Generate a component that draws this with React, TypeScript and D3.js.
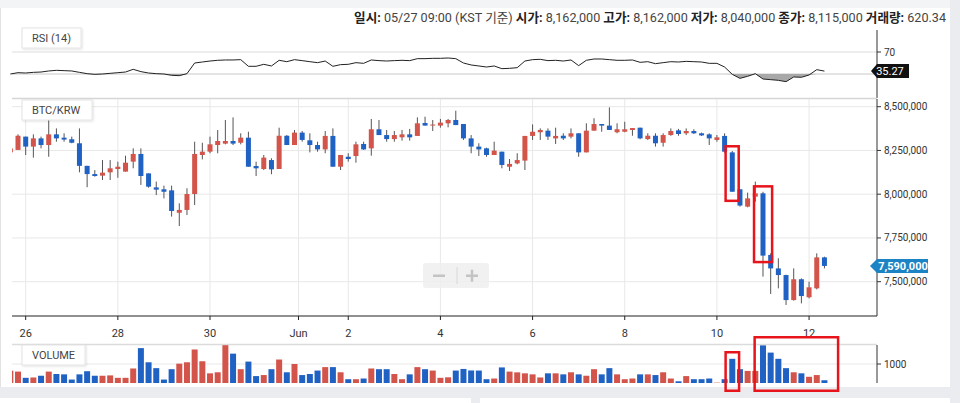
import React from "react";
import * as d3 from "d3";

// ---- data (4h candles, BTC/KRW) ----
const firstCandleDay = 25 + 16 / 24; // May 25 16:00 (chart time, day units)
const candleStepDays = 4 / 24;

const openP = [8239000,8253000,8329000,8272000,8319000,8281000,8342000,8323000,8314000,8291000,8162000,8115000,8106000,8125000,8144000,8129000,8186000,8230000,8119000,8039000,8028000,8022000,7894000,7910000,8001000,8224000,8243000,8281000,8289000,8304000,8294000,8323000,8161000,8144000,8195000,8144000,8334000,8281000,8352000,8308000,8281000,8256000,8333000,8157000,8214000,8218000,8287000,8262000,8371000,8338000,8315000,8325000,8342000,8333000,8407000,8397000,8392000,8405000,8424000,8401000,8319000,8272000,8262000,8224000,8243000,8157000,8176000,8192000,8333000,8354000,8363000,8319000,8334000,8329000,8348000,8239000,8363000,8401000,8392000,8354000,8357000,8367000,8380000,8315000,8334000,8294000,8338000,8365000,8348000,8361000,8348000,8342000,8310000,8333000,8239000,8028000,7929000,7986000,8005000,7653000,7576000,7538000,7395000,7514000,7411000,7462000,7639000];
const highP = [8265000,8342000,8329000,8342000,8329000,8424000,8376000,8348000,8329000,8376000,8162000,8138000,8195000,8195000,8186000,8220000,8262000,8262000,8119000,8072000,8049000,8049000,7948000,8034000,8300000,8294000,8329000,8367000,8424000,8439000,8348000,8357000,8186000,8224000,8205000,8380000,8338000,8367000,8361000,8348000,8300000,8361000,8376000,8224000,8234000,8300000,8300000,8430000,8424000,8367000,8361000,8367000,8373000,8439000,8443000,8424000,8430000,8430000,8477000,8401000,8338000,8291000,8266000,8300000,8243000,8201000,8234000,8333000,8399000,8376000,8376000,8380000,8348000,8376000,8348000,8405000,8434000,8401000,8496000,8405000,8414000,8378000,8380000,8348000,8348000,8348000,8376000,8373000,8376000,8371000,8352000,8348000,8338000,8348000,8247000,8028000,8009000,8072000,8014000,7662000,7634000,7540000,7576000,7519000,7500000,7662000,7643000];
const lowP = [8235000,8253000,8224000,8209000,8262000,8214000,8300000,8300000,8291000,8125000,8040000,8100000,8081000,8081000,8094000,8129000,8148000,8053000,8037000,7995000,7976000,7872000,7818000,7881000,7938000,8199000,8234000,8234000,8285000,8281000,8285000,8157000,8104000,8138000,8114000,8144000,8281000,8281000,8300000,8239000,8243000,8234000,8157000,8138000,8186000,8180000,8253000,8220000,8338000,8300000,8300000,8306000,8306000,8333000,8392000,8361000,8380000,8382000,8395000,8310000,8234000,8218000,8214000,8224000,8148000,8133000,8171000,8138000,8310000,8310000,8310000,8287000,8310000,8319000,8214000,8239000,8363000,8357000,8367000,8348000,8354000,8334000,8314000,8310000,8272000,8272000,8334000,8334000,8338000,8344000,8333000,8281000,8300000,8237000,8014000,7929000,7925000,7957000,7529000,7430000,7462000,7367000,7392000,7376000,7405000,7456000,7576000];
const closeP = [8262000,8334000,8272000,8319000,8281000,8342000,8319000,8312000,8294000,8162000,8115000,8104000,8123000,8148000,8157000,8180000,8230000,8104000,8043000,8026000,8014000,7904000,7910000,8001000,8230000,8243000,8285000,8304000,8304000,8289000,8323000,8157000,8148000,8209000,8142000,8334000,8281000,8352000,8310000,8281000,8256000,8333000,8157000,8224000,8201000,8285000,8256000,8371000,8338000,8315000,8338000,8342000,8325000,8405000,8392000,8398000,8409000,8424000,8395000,8319000,8272000,8256000,8224000,8249000,8167000,8173000,8195000,8333000,8357000,8367000,8329000,8333000,8319000,8348000,8239000,8363000,8401000,8392000,8367000,8371000,8371000,8378000,8319000,8334000,8291000,8338000,8361000,8344000,8361000,8348000,8336000,8319000,8325000,8243000,8014000,7935000,7976000,8005000,7649000,7576000,7538000,7395000,7514000,7418000,7468000,7639000,7590000];
const volumes = [650,600,273,291,382,600,473,455,182,455,620.34,382,382,400,273,273,764,1836,1091,782,182,727,1018,1091,1764,1145,509,564,1990,1545,727,1127,364,418,727,1236,564,1000,418,473,655,836,836,564,200,200,236,764,727,727,473,200,455,836,727,655,273,300,655,740,660,655,200,236,820,600,560,509,455,291,509,509,455,564,455,382,727,455,782,455,200,236,455,455,418,564,236,91,364,200,200,236,18,200,1273,727,636,636,1980,1600,1273,782,564,509,327,418,145];
const rsiValues = [30.0,32.4,31.8,33.0,33.6,35.5,36.7,36.1,35.5,33.0,30.6,29.4,30.0,31.2,32.4,33.6,38.5,34.3,31.8,30.6,30.0,27.6,27.0,30.6,50.0,51.8,53.6,54.9,55.5,55.5,56.1,44.0,44.0,47.6,44.6,54.9,52.4,56.1,54.3,52.4,50.6,53.6,44.0,47.0,47.6,50.6,49.4,55.5,54.3,53.6,54.3,54.9,54.3,57.9,57.9,58.5,58.5,59.1,57.9,50.0,46.4,44.6,42.7,44.6,39.7,40.3,41.5,53.6,56.1,56.7,54.3,54.9,53.6,55.5,45.2,54.9,57.3,57.3,56.1,54.9,54.9,55.5,51.2,52.4,48.8,50.6,52.4,51.8,53.0,52.4,51.8,49.4,49.4,42.7,29.4,22.1,25.8,30.6,20.9,19.7,18.5,16.1,24.6,24.0,28.2,37.9,35.27];

const xTickDays = [26, 28, 30, 31.92, 33, 35, 37, 39, 41, 43];
const xTickLabels = ["26", "28", "30", "Jun", "2", "4", "6", "8", "10", "12"];
const priceTicks = [7500000, 7750000, 8000000, 8250000, 8500000];
const rsiLevels = [30, 70];
const rsiTickLabels = [70];
const volumeTicks = [1000];

const hoverIndex = 10;
const hoverLabel = "05/27 09:00";

// annotation boxes, in candle-index / value units
const priceBoxes = [
  { from: 92.97, to: 95.0, top: 8281000, bottom: 7955000 },
  { from: 96.67, to: 99.35, top: 8052000, bottom: 7605000 },
];
const volumeBoxes = [
  { from: 92.97, to: 95.05, top: 1684, bottom: -474 },
  { from: 96.75, to: 107.94, top: 2474, bottom: -474 },
];

const UP = "#d3544a";
const DOWN = "#2062c3";
const WICK = "#555";
const FONT = "Roboto, 'Noto Sans CJK KR', sans-serif";

export default function App() {
  const L = 12, R = 877;
  const x = d3.scaleLinear().domain([25.703, 44.474]).range([L, R]);
  const cx = (i: number) => x(firstCandleDay + i * candleStepDays);
  const yP = d3.scaleLinear().domain([7500000, 8500000]).range([281.7, 106.7]);
  const yR = d3.scaleLinear().domain([30, 70]).range([74, 52]);
  const yV = d3.scaleLinear().domain([0, 2000]).range([383, 345]);
  const fmt = d3.format(",");
  const idx = d3.range(closeP.length);

  const rsiLine = d3.line<number>().x((i) => cx(i)).y((i) => yR(rsiValues[i]))(idx) || "";
  const rsiArea =
    d3
      .area<number>()
      .x((i) => cx(i))
      .y0(yR(30))
      .y1((i) => yR(Math.min(rsiValues[i], 30)))(idx) || "";

  const last = closeP.length - 1;
  const lastY = yP(closeP[last]);
  const lastRY = yR(rsiValues[last]);

  const labelBox = (bx: number, by: number, w: number, text: string) => (
    <g>
      <rect x={bx} y={by} width={w} height={20} fill="#fff" stroke="#e4e4e4" filter="url(#sh)" />
      <text x={bx + 10} y={by + 14} fontSize={11} fill="#444" fontFamily={FONT}>{text}</text>
    </g>
  );

  const hdr: [string, boolean][] = [
    ["일시: ", true], [hoverLabel + " (KST 기준) ", false],
    ["시가: ", true], [fmt(openP[hoverIndex]) + " ", false],
    ["고가: ", true], [fmt(highP[hoverIndex]) + " ", false],
    ["저가: ", true], [fmt(lowP[hoverIndex]) + " ", false],
    ["종가: ", true], [fmt(closeP[hoverIndex]) + " ", false],
    ["거래량: ", true], [d3.format(".2f")(volumes[hoverIndex]), false],
  ];

  return (
    <svg width={960} height={403} style={{ position: "absolute", left: 0, top: 0 }} fontFamily={FONT}>
      <defs>
        <filter id="sh" x="-10%" y="-20%" width="130%" height="160%">
          <feDropShadow dx="1" dy="1" stdDeviation="1" floodColor="#000" floodOpacity="0.12" />
        </filter>
        <clipPath id="plot"><rect x={L} y={99} width={R - L} height={217} /></clipPath>
        <clipPath id="vplot"><rect x={L} y={345} width={R - L} height={38} /></clipPath>
      </defs>
      {/* page background */}
      <rect x={0} y={0} width={960} height={403} fill="#fff" />
      <rect x={0} y={0} width={950} height={8} fill="#f3f4f6" />
      <rect x={950} y={0} width={10} height={403} fill="#eaecef" />
      <rect x={0} y={387} width={950} height={11} fill="#eaecef" />
      <rect x={471} y={398} width={9} height={5} fill="#eaecef" />
      <line x1={0.5} x2={0.5} y1={8} y2={387} stroke="#e2e2e2" />

      {/* header */}
      <text x={946} y={22} textAnchor="end" fontSize={12.6}>
        {hdr.map(([s, b], k) => (
          <tspan key={k} fontWeight={b ? 700 : 400} fill={b ? "#222" : "#444"}>{s}</tspan>
        ))}
      </text>

      {/* RSI panel */}
      {rsiLevels.map((v) => (
        <line key={v} x1={L} x2={R} y1={yR(v)} y2={yR(v)} stroke={v === 70 ? "#ddd" : "#c8c8c8"} />
      ))}
      <path d={rsiArea} fill="#a8a8a8" />
      <path d={rsiLine} fill="none" stroke="#222" strokeWidth={1} />
      {labelBox(22, 28, 59, "RSI (14)")}
      <line x1={R} x2={R} y1={30} y2={98} stroke="#333" />
      {rsiTickLabels.map((v) => (
        <g key={v}>
          <line x1={R} x2={R + 4} y1={yR(v)} y2={yR(v)} stroke="#333" />
          <text x={884} y={yR(v) + 3.5} fontSize={10} fill="#333">{v}</text>
        </g>
      ))}
      <path d={`M${R - 6},${lastRY} l6,-7 h32 v14 h-32 z`} fill="#111" />
      <text x={890} y={lastRY + 4} fontSize={11} fill="#fff" textAnchor="middle">{rsiValues[last].toFixed(2)}</text>

      {/* separators */}
      <line x1={L} x2={R} y1={98.5} y2={98.5} stroke="#d6d6d6" strokeWidth={1.5} />

      {/* price panel grid */}
      {priceTicks.map((v) => (
        <line key={v} x1={L} x2={R} y1={yP(v)} y2={yP(v)} stroke="#e8e8e8" />
      ))}
      {xTickDays.map((d) => (
        <line key={d} x1={x(d)} x2={x(d)} y1={99} y2={316} stroke="#e8e8e8" />
      ))}

      {/* zoom control */}
      <g>
        <rect x={423} y={263} width={66} height={25} rx={3} fill="#efefef" opacity={0.85} />
        <line x1={457} x2={457} y1={267} y2={284} stroke="#d8d8d8" />
        <rect x={433} y={274.5} width={12} height={2.5} fill="#c4c4c4" />
        <rect x={466} y={274.5} width={12} height={2.5} fill="#c4c4c4" />
        <rect x={470.75} y={269.75} width={2.5} height={12} fill="#c4c4c4" />
      </g>

      {/* candles */}
      <g clipPath="url(#plot)">
        {idx.map((i) => {
          const up = closeP[i] >= openP[i];
          const c = cx(i);
          const top = yP(Math.max(openP[i], closeP[i]));
          const bot = yP(Math.min(openP[i], closeP[i]));
          return (
            <g key={i}>
              <line x1={c} x2={c} y1={yP(highP[i])} y2={yP(lowP[i])} stroke={WICK} strokeWidth={1} />
              <rect x={c - 2.5} y={top} width={5} height={Math.max(1, bot - top)} fill={up ? UP : DOWN} />
            </g>
          );
        })}
      </g>
      {labelBox(22, 100, 70, "BTC/KRW")}

      {/* price axis */}
      <line x1={R} x2={R} y1={99} y2={316} stroke="#333" />
      {priceTicks.map((v) => (
        <g key={v}>
          <line x1={R} x2={R + 4} y1={yP(v)} y2={yP(v)} stroke="#333" />
          <text x={884} y={yP(v) + 3.5} fontSize={10} fill="#333">{fmt(v)}</text>
        </g>
      ))}
      <path d={`M${R - 7},${lastY} l7,-7 h51 v14 h-51 z`} fill="#1c84c4" />
      <text x={903} y={lastY + 4} fontSize={11} fontWeight={700} fill="#fff" textAnchor="middle">{fmt(closeP[last])}</text>

      {/* x axis */}
      <line x1={L} x2={R} y1={316} y2={316} stroke="#222" strokeWidth={1.2} />
      {xTickDays.map((d, k) => (
        <g key={d}>
          <line x1={x(d)} x2={x(d)} y1={316} y2={320} stroke="#222" />
          <text x={x(d)} y={337} fontSize={11} fill="#333" textAnchor="middle">{xTickLabels[k]}</text>
        </g>
      ))}

      {/* volume panel */}
      <line x1={L} x2={R} y1={344.5} y2={344.5} stroke="#dcdcdc" strokeWidth={1.5} />
      {volumeTicks.map((v) => (
        <line key={v} x1={L} x2={R} y1={yV(v)} y2={yV(v)} stroke="#e8e8e8" />
      ))}
      <g clipPath="url(#vplot)">
        {idx.map((i) => (
          <rect key={i} x={cx(i) - 3} y={yV(volumes[i])} width={6} height={yV(0) - yV(volumes[i])}
            fill={closeP[i] >= openP[i] ? UP : DOWN} />
        ))}
      </g>
      {labelBox(22, 345, 63, "VOLUME")}
      <line x1={R} x2={R} y1={345} y2={383} stroke="#333" />
      {volumeTicks.map((v) => (
        <g key={v}>
          <line x1={R} x2={R + 4} y1={yV(v)} y2={yV(v)} stroke="#333" />
          <text x={884} y={yV(v) + 3.5} fontSize={10} fill="#333">{v}</text>
        </g>
      ))}

      {/* annotation boxes */}
      {priceBoxes.map((b, k) => (
        <rect key={"p" + k} x={cx(b.from) + 1.25} y={yP(b.top) + 1.25}
          width={cx(b.to) - cx(b.from) - 2.5} height={yP(b.bottom) - yP(b.top) - 2.5}
          fill="none" stroke="#e8141c" strokeWidth={2.5} />
      ))}
      {volumeBoxes.map((b, k) => (
        <rect key={"v" + k} x={cx(b.from) + 1.25} y={yV(b.top) + 1.25}
          width={cx(b.to) - cx(b.from) - 2.5} height={yV(b.bottom) - yV(b.top) - 2.5}
          fill="none" stroke="#e8141c" strokeWidth={2.5} />
      ))}
    </svg>
  );
}
